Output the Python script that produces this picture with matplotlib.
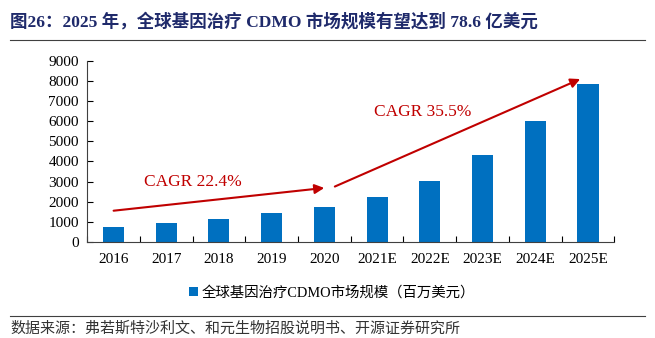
import matplotlib.pyplot as plt

plt.rcParams['font.family'] = ['Liberation Serif', 'Noto Sans CJK SC']

years = ['2016', '2017', '2018', '2019', '2020', '2021E', '2022E', '2023E', '2024E', '2025E']
market = [770, 940, 1150, 1440, 1720, 2240, 3030, 4330, 6010, 7860]
cagr_labels = ['CAGR 22.4%', 'CAGR 35.5%']
legend_label = '全球基因治疗CDMO市场规模（百万美元）'
title = '图26：2025 年，全球基因治疗 CDMO 市场规模有望达到 78.6 亿美元'
source = '数据来源：弗若斯特沙利文、和元生物招股说明书、开源证券研究所'

blue = '#0070C0'
red = '#C00000'
navy = '#1F2A6B'

fig = plt.figure(figsize=(6.55, 3.38), dpi=100)
ax = fig.add_axes([0.133, 0.284, 0.805, 0.536])

x = range(len(years))
ax.bar(x, market, width=0.4, color=blue, label=legend_label, zorder=2)

ax.set_xlim(-0.5, len(years) - 0.5)
ax.set_ylim(0, 9000)
ax.set_yticks(range(0, 9001, 1000))
ax.set_xticks(list(x))
ax.set_xticklabels(years)
ax.set_xticks([i + 0.5 for i in range(-1, len(years))], minor=True)
ax.tick_params(axis='x', which='major', length=0, labelsize=11, pad=8)
ax.tick_params(axis='x', which='minor', direction='in', length=4, width=0.8)
ax.tick_params(axis='y', direction='in', length=4, width=0.8, labelsize=11, pad=6)
for s in ['top', 'right']:
    ax.spines[s].set_visible(False)
for s in ['left', 'bottom']:
    ax.spines[s].set_linewidth(0.8)
    ax.spines[s].set_color('#404040')

# CAGR arrows
ax.annotate('', xy=(4.05, 2700), xytext=(-0.05, 1540),
            arrowprops=dict(arrowstyle='-|>', color=red, lw=1.5, mutation_scale=14))
ax.annotate('', xy=(8.9, 8150), xytext=(4.15, 2700),
            arrowprops=dict(arrowstyle='-|>', color=red, lw=1.5, mutation_scale=14))
ax.text(1.5, 3000, cagr_labels[0], color=red, fontsize=12.5, ha='center', va='center')
ax.text(5.87, 6450, cagr_labels[1], color=red, fontsize=12.5, ha='center', va='center')

leg = ax.legend(loc='upper center', bbox_to_anchor=(0.465, -0.17), frameon=False,
                handlelength=0.6, handleheight=0.6, handletextpad=0.3,
                prop={'family': ['Liberation Serif', 'Noto Sans CJK SC'], 'size': 10.4})

fig.text(0.016, 0.935, title, fontsize=12.6, fontweight='bold', color=navy,
         ha='left', va='center')
fig.add_artist(plt.Line2D([0.015, 0.985], [0.882, 0.882], color='#404040', lw=0.8))
fig.add_artist(plt.Line2D([0.015, 0.985], [0.065, 0.065], color='#404040', lw=0.8))
fig.text(0.016, 0.028, source, fontsize=10.8, color='#333333', ha='left', va='center',
         family=['Noto Sans CJK SC'])

fig.savefig('out.png', dpi=100)
